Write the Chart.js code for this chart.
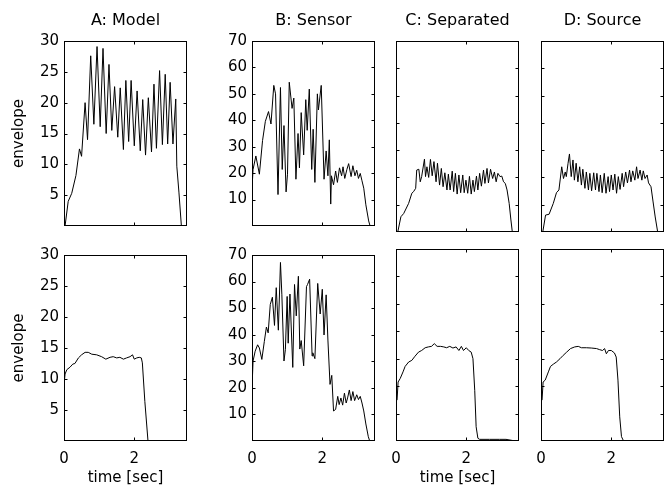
<!DOCTYPE html>
<html lang="en">
<head>
  <meta charset="UTF-8" />
  <title>Envelope comparison</title>
  <script src="https://cdn.jsdelivr.net/npm/chart.js"></script>
  <style>
    body { margin: 0; background: #fff; }
    #fig { position: relative; width: 672px; height: 493px; overflow: hidden; }
    #fig canvas { position: absolute; }
  </style>
</head>
<body>
<div id="fig"></div>
<script>
  const titles = ["A: Model", "B: Sensor", "C: Separated", "D: Source"];
  const xTicks = [0, 2];
  const yTicksModel = [0, 5, 10, 15, 20, 25, 30];
  const yTicksOther = [0, 10, 20, 30, 40, 50, 60, 70];

  // top row
  const timeA1 = [0.03,0.12,0.22,0.34,0.44,0.50,0.60,0.67,0.76,0.85,0.94,1.03,1.11,1.20,1.28,1.36,1.44,1.53,1.60,1.69,1.76,1.84,1.91,2.00,2.08,2.17,2.24,2.32,2.40,2.49,2.56,2.63,2.72,2.80,2.88,2.95,3.02,3.10,3.18,3.21,3.27,3.34];
  const envA1 = [0,4,5.3,8.2,12.5,11.3,20,14,27.6,16.5,29.1,16.1,28.8,15,26.2,15.5,22.6,14.4,22.4,12.4,23.6,13.7,23.6,13,21.9,12.2,20.5,11.5,20.8,12,23,12.6,25.2,13.2,24.6,13.3,23.3,13.3,20.6,9.7,5.5,0];

  const timeB1 = [0,0.03,0.11,0.21,0.30,0.38,0.47,0.54,0.62,0.67,0.74,0.81,0.86,0.91,0.97,1.01,1.06,1.14,1.19,1.25,1.31,1.35,1.40,1.47,1.53,1.57,1.63,1.70,1.74,1.79,1.86,1.89,1.97,2.05,2.11,2.16,2.20,2.24,2.26,2.32,2.38,2.43,2.49,2.55,2.59,2.64,2.70,2.75,2.82,2.87,2.93,2.98,3.03,3.08,3.13,3.18,3.24,3.32,3.36];
  const envB1 = [14.1,21.4,26.5,19.6,32.3,39.6,43.3,38.6,53.2,50,11.9,52.4,21.4,38,12.9,19.6,54.4,44.5,48.4,17.7,35,22,42.9,26.9,47.8,36.2,51.8,21.4,36.6,16.5,50,43.9,53.2,17.7,28.4,19,32.6,8.3,19,15.6,20.8,16.5,22,19,22.4,18,21.4,23.6,18.7,22.8,19,21.1,18,19.9,17.1,14.3,8,1.9,0];

  const timeC1 = [0.05,0.14,0.22,0.36,0.45,0.50,0.56,0.59,0.65,0.69,0.73,0.81,0.84,0.88,0.93,0.98,1.03,1.08,1.14,1.18,1.24,1.29,1.34,1.39,1.45,1.49,1.54,1.60,1.64,1.69,1.74,1.79,1.84,1.90,1.94,1.99,2.04,2.09,2.14,2.19,2.23,2.29,2.33,2.38,2.43,2.49,2.53,2.59,2.63,2.69,2.75,2.80,2.85,2.90,2.96,3.01,3.06,3.11,3.16,3.22,3.27,3.31];
  const envC1 = [0,5.6,6.8,10.5,14.2,14.8,16,22.7,23,18.4,20.3,26.7,20.3,23.9,20,26.6,20.6,25.8,18.4,25.2,17.2,23.3,16.6,21.7,15.4,21.2,15.4,22.3,14.8,21.5,13.9,20.9,14.4,20.9,14.4,19,14.2,20.4,13.9,19,14.8,20.5,15.4,21.5,16.8,22.7,17.8,23.3,18,23,19.6,22,18.4,21.5,20.3,20.5,18.4,17.8,15.4,10.5,4.4,0];

  const timeD1 = [0.05,0.13,0.23,0.35,0.44,0.51,0.59,0.64,0.69,0.72,0.77,0.81,0.86,0.91,0.95,1.00,1.05,1.10,1.15,1.19,1.25,1.29,1.35,1.39,1.44,1.50,1.55,1.59,1.65,1.69,1.74,1.80,1.85,1.91,1.95,2.00,2.05,2.10,2.15,2.20,2.25,2.31,2.35,2.41,2.46,2.52,2.56,2.61,2.67,2.72,2.76,2.82,2.87,2.91,2.96,3.02,3.06,3.13,3.19,3.25,3.32];
  const envD1 = [0,6.2,6.5,10.5,14.4,15.4,23.9,19.6,22,20.3,25.2,28.6,20.3,26.4,19,25.2,18.4,23.9,17.2,23,16,22,15.4,21.5,15.1,21.7,15.4,21.5,14.8,20.9,14.4,21.5,14.2,20.3,14.8,20.9,15.4,21.2,14.2,20.3,15.6,21.5,16.6,22,18,22.7,18.4,22.4,19,23.9,19.6,22.7,19,22.4,19.6,20.9,18,16.6,11,5.5,0];

  // bottom row
  const timeA2 = [0,0.03,0.08,0.17,0.25,0.31,0.41,0.50,0.60,0.69,0.79,0.93,1.07,1.19,1.31,1.40,1.50,1.59,1.69,1.78,1.88,1.95,2.00,2.07,2.14,2.20,2.23,2.30,2.39];
  const envA2 = [9,10.8,11.5,11.9,12.4,12.5,13.4,13.9,14.3,14.3,14,13.9,13.6,13.2,13.5,13.6,13.4,13.5,13.2,13.4,13.6,13.9,13.2,13.4,13.5,13.4,12.6,6.4,0];

  const timeB2 = [0,0.03,0.09,0.16,0.21,0.28,0.35,0.41,0.46,0.52,0.58,0.64,0.69,0.75,0.81,0.85,0.91,0.95,1.00,1.03,1.08,1.16,1.21,1.26,1.32,1.36,1.40,1.47,1.55,1.58,1.64,1.71,1.73,1.79,1.87,1.94,2.00,2.05,2.11,2.16,2.22,2.27,2.32,2.38,2.44,2.48,2.53,2.58,2.63,2.68,2.72,2.77,2.82,2.87,2.92,2.98,3.03,3.08,3.13,3.18,3.24,3.31,3.35];
  const envB2 = [19.8,30.1,33.8,36.2,35,30.7,37.4,42.9,40.7,51.4,54.1,43.5,57.7,41.7,67.2,55,30.1,34.4,54.4,36.8,55.3,27.7,58.9,47.1,62,34.6,37.8,28.3,58.1,58.9,60.9,32,33.2,31,59.3,47.8,57.1,39.9,55,38,21.3,24.7,11.3,11.9,16.8,13.7,16.2,13.5,18,14.3,16.2,19.2,15.2,18.6,15.2,17.4,15.6,16.8,14.3,11.3,6.4,1.6,0];

  const timeC2 = [0.03,0.06,0.12,0.20,0.26,0.36,0.45,0.54,0.64,0.73,0.83,0.92,1.01,1.09,1.17,1.27,1.36,1.44,1.53,1.62,1.71,1.79,1.86,1.92,2.00,2.07,2.14,2.19,2.24,2.28,2.33,2.38,2.66,2.94,3.13,3.31,3.48];
  const envC2 = [14.9,21.5,22.8,25.2,27.2,28.8,29.4,30.9,32.4,33,34,34.3,34.5,35.5,34.5,34.5,34.3,34,34.5,33.9,34.3,33,34.5,33,34,33,32.4,30,18.5,5.2,1,0.6,0.6,0.6,0.6,0.2,0];

  const timeD2 = [0.03,0.06,0.12,0.21,0.27,0.35,0.44,0.54,0.63,0.73,0.84,0.96,1.06,1.15,1.29,1.43,1.58,1.67,1.75,1.81,1.86,1.92,2.00,2.09,2.14,2.19,2.24,2.29,2.35];
  const envD2 = [14.9,21.5,22.2,25.2,27.2,28,28.8,30,31.2,32.4,33.7,34.3,34.5,34,34,33.9,33.7,33.3,33,33.7,31.8,33,33,32.1,30.6,22.2,8.8,1.6,0];

  const panels = [
    { col: 0, row: 0, t: timeA1, v: envA1 },
    { col: 1, row: 0, t: timeB1, v: envB1 },
    { col: 2, row: 0, t: timeC1, v: envC1 },
    { col: 3, row: 0, t: timeD1, v: envD1 },
    { col: 0, row: 1, t: timeA2, v: envA2 },
    { col: 1, row: 1, t: timeB2, v: envB2 },
    { col: 2, row: 1, t: timeC2, v: envC2 },
    { col: 3, row: 1, t: timeD2, v: envD2 }
  ];

  const colLeft = [64, 252, 396, 541];
  const plotW = 123;
  const padL = 64, padR = 4;
  const FONT = "'DejaVu Sans', sans-serif";

  // black box with small inward ticks on all four sides, like the original figure
  const framePlugin = {
    id: "frame",
    afterDatasetsDraw(chart) {
      const { ctx, chartArea: a, scales } = chart;
      const L = Math.round(a.left) + 0.5, R = Math.round(a.right) - 0.5;
      const T = Math.round(a.top) + 0.5, B = Math.round(a.bottom) - 0.5;
      ctx.save();
      ctx.strokeStyle = "#000";
      ctx.lineWidth = 1;
      ctx.strokeRect(L, T, R - L, B - T);
      ctx.beginPath();
      scales.y.ticks.forEach(tk => {
        if (tk.value <= scales.y.min || tk.value >= scales.y.max) return;
        const py = Math.round(scales.y.getPixelForValue(tk.value)) + 0.5;
        ctx.moveTo(L, py); ctx.lineTo(L + 3, py);
        ctx.moveTo(R, py); ctx.lineTo(R - 3, py);
      });
      scales.x.ticks.forEach(tk => {
        if (tk.value <= scales.x.min || tk.value >= scales.x.max) return;
        const px = Math.round(scales.x.getPixelForValue(tk.value)) + 0.5;
        ctx.moveTo(px, B); ctx.lineTo(px, B - 3);
        ctx.moveTo(px, T); ctx.lineTo(px, T + 3);
      });
      ctx.stroke();
      ctx.restore();
    }
  };

  const fig = document.getElementById("fig");

  panels.forEach(p => {
    const top = p.row === 0;
    const plotTop = top ? 41 : 249;
    const plotH = top ? 191 : 192;
    const xAxisH = top ? 8 : 52;
    const padTop = top ? 0 : 8;
    const titleH = top ? 41 : 0;

    const canvas = document.createElement("canvas");
    canvas.width = padL + plotW + padR;
    canvas.height = padTop + titleH + plotH + xAxisH;
    canvas.style.left = (colLeft[p.col] - padL) + "px";
    canvas.style.top = (plotTop - titleH - padTop) + "px";
    fig.appendChild(canvas);

    const isModel = p.col === 0;
    const yTicks = isModel ? yTicksModel : yTicksOther;

    new Chart(canvas, {
      type: "line",
      data: {
        datasets: [{
          data: p.t.map((x, i) => ({ x: x, y: p.v[i] })),
          borderColor: "#000",
          borderWidth: 1,
          pointRadius: 0,
          tension: 0,
          fill: false
        }]
      },
      options: {
        responsive: false,
        animation: false,
        events: [],
        layout: { padding: { left: 0, right: padR, top: padTop, bottom: 0 } },
        scales: {
          x: {
            type: "linear",
            min: 0,
            max: 3.5,
            afterBuildTicks: s => { s.ticks = xTicks.map(v => ({ value: v })); },
            afterFit: s => { s.height = xAxisH; },
            grid: { display: false, drawTicks: false },
            border: { display: false },
            ticks: { display: !top, padding: 9, color: "#000", font: { family: FONT, size: 15 } },
            title: {
              display: !top && (p.col === 0 || p.col === 2),
              text: "time [sec]",
              color: "#000",
              padding: { top: 0, bottom: 6 },
              font: { family: FONT, size: 15 }
            }
          },
          y: {
            min: 0,
            max: yTicks[yTicks.length - 1],
            afterBuildTicks: s => { s.ticks = yTicks.map(v => ({ value: v })); },
            afterFit: s => { s.width = padL; },
            grid: { display: false, drawTicks: false },
            border: { display: false },
            ticks: {
              display: p.col < 2,
              padding: 5,
              color: "#000",
              font: { family: FONT, size: 15 },
              callback: v => (v === 0 ? "" : v)
            },
            title: {
              display: isModel,
              text: "envelope",
              color: "#000",
              padding: { top: 10, bottom: 0 },
              font: { family: FONT, size: 15 }
            }
          }
        },
        plugins: {
          legend: { display: false },
          tooltip: { enabled: false },
          title: {
            display: top,
            text: titles[p.col],
            fullSize: false,
            color: "#000",
            padding: { top: 11, bottom: 10.8 },
            font: { family: FONT, size: 16, weight: "normal" }
          }
        }
      },
      plugins: [framePlugin]
    });
  });
</script>
</body>
</html>
